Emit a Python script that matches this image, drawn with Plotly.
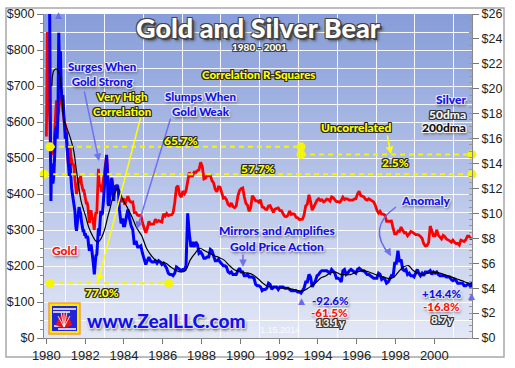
import plotly.graph_objects as go
import pandas as pd

# ---------------- DATA ----------------
dates_1980 = ['1980-01-02', '1980-01-10', '1980-01-21', '1980-01-28', '1980-02-06', '1980-02-15', '1980-02-26',
              '1980-03-10', '1980-03-18', '1980-03-27', '1980-04-08', '1980-04-22', '1980-05-07', '1980-05-20',
              '1980-06-05', '1980-06-20', '1980-07-08', '1980-07-22', '1980-08-07', '1980-08-22', '1980-09-08',
              '1980-09-22', '1980-10-08', '1980-10-22', '1980-11-07', '1980-11-21', '1980-12-08', '1980-12-22']
gold_1980 = [560, 640, 850, 660, 700, 660, 640, 590, 490, 510, 530, 510, 515, 520,
             570, 630, 660, 640, 620, 630, 680, 710, 670, 640, 630, 620, 590, 595]
silver_1980 = [36, 38, 48, 37, 35, 34, 30, 22, 16, 11, 14, 12.5, 12.5, 13,
               14.5, 16.5, 17, 16, 18, 24.5, 21, 23, 20, 19, 19.5, 18, 16.5, 16]

dates_8183 = [f"{y}-{m:02d}-{d:02d}" for y in (1981, 1982, 1983) for m in range(1, 13) for d in (8, 22)]
gold_8183 = [580, 530, 500, 475, 485, 535, 505, 490, 480, 485, 470, 440, 410, 400, 410, 425, 445, 440, 450, 430, 415, 410, 410, 400,
             390, 375, 375, 365, 340, 320, 345, 355, 335, 330, 315, 300, 335, 350, 345, 400, 470, 430, 420, 425, 405, 420, 440, 450,
             470, 495, 505, 480, 420, 410, 430, 435, 440, 445, 415, 410, 420, 425, 415, 420, 410, 410, 395, 390, 385, 378, 385, 388]
silver_8183 = [16.5, 15.5, 14.5, 14.0, 13.0, 14.0, 12.5, 12.0, 11.5, 11.0, 10.8, 10.2, 9.0, 8.6, 9.3, 9.8, 10.5, 10.2, 10.0, 9.4, 8.8, 8.6, 8.6, 8.3,
               8.3, 8.0, 8.2, 8.0, 7.4, 7.0, 7.2, 7.5, 7.0, 6.6, 5.8, 5.1, 6.3, 6.6, 6.7, 7.8, 8.8, 8.2, 9.8, 10.2, 9.9, 10.0, 10.8, 11.5,
               12.5, 13.6, 14.7, 13.5, 10.8, 10.6, 11.2, 11.9, 12.8, 12.6, 11.2, 11.0, 11.9, 12.2, 12.0, 12.3, 12.1, 11.6, 10.3, 9.8, 9.2, 9.3, 9.6, 9.0]

dates_8401 = (pd.date_range('1984-01-01', '2001-12-01', freq='MS') + pd.Timedelta(days=14)).strftime('%Y-%m-%d').tolist()
gold_8401 = [370, 386, 394, 381, 377, 378, 348, 348, 341, 340, 341, 320,
             303, 292, 304, 324, 316, 317, 317, 330, 323, 326, 325, 322,
             345, 339, 346, 340, 342, 342, 348, 376, 418, 423, 398, 391,
             408, 401, 409, 438, 460, 450, 450, 461, 460, 465, 467, 488,
             477, 442, 444, 452, 451, 451, 437, 431, 413, 406, 420, 419,
             404, 388, 390, 384, 371, 367, 375, 365, 362, 367, 394, 409,
             415, 417, 393, 374, 369, 352, 362, 395, 389, 381, 381, 377,
             384, 364, 363, 358, 357, 367, 368, 356, 349, 358, 360, 361,
             354, 354, 345, 338, 337, 341, 353, 343, 345, 344, 335, 334,
             329, 329, 330, 342, 367, 372, 398, 379, 355, 364, 373, 383,
             387, 382, 384, 378, 381, 386, 385, 380, 392, 390, 384, 379,
             379, 377, 382, 391, 385, 387, 386, 383, 383, 383, 386, 387,
             400, 408, 396, 393, 392, 385, 383, 387, 383, 381, 378, 369,
             355, 347, 352, 344, 344, 341, 324, 324, 323, 325, 306, 289,
             289, 297, 296, 308, 299, 292, 293, 284, 289, 296, 294, 291,
             287, 287, 286, 282, 277, 262, 256, 257, 265, 311, 293, 284,
             284, 300, 286, 280, 275, 285, 282, 275, 273, 270, 266, 272,
             266, 262, 263, 258, 272, 270, 268, 273, 283, 283, 276, 276]
silver_8401 = [9.0, 9.7, 10.3, 9.6, 9.0, 8.7, 7.5, 7.8, 7.3, 7.3, 7.4, 6.8,
               6.3, 5.9, 6.2, 6.5, 6.2, 6.1, 6.1, 6.2, 6.0, 6.2, 6.1, 5.9,
               6.0, 5.8, 5.6, 5.2, 5.1, 5.1, 5.0, 5.2, 5.7, 5.6, 5.5, 5.4,
               5.5, 5.5, 5.8, 10.0, 8.4, 7.3, 7.7, 7.3, 7.7, 7.5, 6.8, 6.9,
               6.7, 6.4, 6.4, 6.5, 6.5, 7.1, 7.0, 6.6, 6.2, 6.2, 6.3, 6.1,
               5.9, 5.8, 5.8, 5.7, 5.3, 5.2, 5.3, 5.1, 5.1, 5.1, 5.4, 5.6,
               5.3, 5.3, 5.0, 5.0, 5.1, 4.9, 4.9, 4.9, 4.8, 4.3, 4.2, 4.2,
               4.1, 3.8, 3.9, 3.9, 4.0, 4.4, 4.3, 3.9, 4.1, 4.1, 4.1, 3.9,
               4.1, 4.1, 4.1, 4.0, 4.0, 4.0, 3.9, 3.8, 3.8, 3.8, 3.8, 3.7,
               3.7, 3.6, 3.8, 4.0, 4.5, 4.5, 5.1, 4.9, 4.1, 4.3, 4.6, 5.0,
               5.1, 5.3, 5.4, 5.4, 5.4, 5.4, 5.3, 5.2, 5.5, 5.3, 5.2, 4.8,
               4.8, 4.7, 4.5, 5.4, 5.5, 5.1, 5.2, 5.4, 5.5, 5.4, 5.3, 5.2,
               5.5, 5.6, 5.5, 5.4, 5.4, 5.2, 5.1, 5.1, 5.0, 4.9, 4.8, 4.8,
               4.8, 5.2, 5.1, 4.7, 4.8, 4.7, 4.4, 4.5, 4.7, 5.0, 4.9, 6.0,
               6.0, 7.0, 6.1, 6.3, 5.5, 5.4, 5.5, 5.1, 5.2, 5.0, 5.0, 4.9,
               5.2, 5.5, 5.2, 5.0, 5.2, 5.0, 5.3, 5.3, 5.3, 5.4, 5.1, 5.3,
               5.2, 5.3, 5.1, 5.0, 5.0, 5.0, 5.0, 4.9, 4.9, 4.9, 4.7, 4.6,
               4.7, 4.6, 4.4, 4.4, 4.4, 4.4, 4.2, 4.2, 4.3, 4.3, 4.1, 4.5]

dma_dates = ['1980-04-15', '1980-05-15', '1980-07-01', '1980-09-01', '1980-10-15', '1980-12-01',
             '1981-01-15', '1981-03-01', '1981-04-15', '1981-06-01', '1981-07-15', '1981-09-01', '1981-10-15', '1981-12-01',
             '1982-01-15', '1982-03-01', '1982-04-15', '1982-06-01', '1982-07-15', '1982-09-01', '1982-10-15', '1982-12-01',
             '1983-01-15', '1983-03-01', '1983-04-15', '1983-06-01', '1983-07-15', '1983-09-01', '1983-10-15', '1983-12-01',
             '1984-03-01', '1984-06-01', '1984-09-01', '1984-12-01', '1985-03-01', '1985-06-01', '1985-09-01', '1985-12-01',
             '1986-03-01', '1986-06-01', '1986-09-01', '1986-12-01', '1987-03-01', '1987-06-01', '1987-09-01', '1987-12-01',
             '1988-03-01', '1988-06-01', '1988-09-01', '1988-12-01', '1989-03-01', '1989-06-01', '1989-09-01', '1989-12-01',
             '1990-03-01', '1990-06-01', '1990-09-01', '1990-12-01', '1991-03-01', '1991-06-01', '1991-09-01', '1991-12-01',
             '1992-03-01', '1992-06-01', '1992-09-01', '1992-12-01', '1993-03-01', '1993-06-01', '1993-09-01', '1993-12-01',
             '1994-03-01', '1994-06-01', '1994-09-01', '1994-12-01', '1995-03-01', '1995-06-01', '1995-09-01', '1995-12-01',
             '1996-03-01', '1996-06-01', '1996-09-01', '1996-12-01', '1997-03-01', '1997-06-01', '1997-09-01', '1997-12-01',
             '1998-03-01', '1998-06-01', '1998-09-01', '1998-12-01', '1999-03-01', '1999-06-01', '1999-09-01', '1999-12-01',
             '2000-03-01', '2000-06-01', '2000-09-01', '2000-12-01', '2001-03-01', '2001-06-01', '2001-09-01', '2001-12-01']
silver_200dma = [20.2, 21.4, 21.6, 21.2, 19.5, 17.4,
                 16.9, 16.4, 15.8, 15.0, 13.6, 12.2, 11.0, 10.3,
                 9.7, 9.0, 8.5, 8.1, 7.8, 7.7, 7.9, 8.3,
                 8.9, 9.7, 10.4, 11.2, 11.7, 12.0, 11.8, 11.2,
                 10.5, 9.7, 8.8, 8.2, 7.2, 6.6, 6.2, 6.1,
                 6.0, 5.7, 5.45, 5.3, 5.4, 6.25, 6.8, 7.2,
                 7.0, 6.8, 6.6, 6.45, 6.25, 5.85, 5.5, 5.35,
                 5.25, 5.2, 5.05, 4.75, 4.4, 4.15, 4.05, 4.05,
                 4.0, 4.0, 3.92, 3.83, 3.76, 3.92, 4.19, 4.48,
                 4.83, 5.0, 5.25, 5.29, 5.1, 5.08, 5.09, 5.25,
                 5.37, 5.38, 5.28, 5.12, 5.0, 4.88, 4.77, 4.88,
                 5.33, 5.69, 5.81, 5.41, 5.2, 5.12, 5.2, 5.27,
                 5.24, 5.15, 5.0, 4.88, 4.73, 4.6, 4.45, 4.35]

# correlation reference lines (R-squares), gold-scale level and date span
corr_labels = ['65.7%', '57.7%', '2.5%', '77.0%']
corr_levels = [531, 455, 510, 152]
corr_start = ['1980-03-10', '1979-11-20', '1993-02-17', '1980-03-10']
corr_end = ['1993-02-17', '2001-12-10', '2001-12-08', '1986-04-25']

gold_dates = dates_1980 + dates_8183 + dates_8401
gold = gold_1980 + gold_8183 + gold_8401
silver = silver_1980 + silver_8183 + silver_8401

# ---------------- FIGURE ----------------
W, H = 515, 368
L, R, T, B = 44, 472, 14, 338


def P(px, py):
    return (px - L) / (R - L), (B - py) / (B - T)


FONT = "Lato Black, Lato, Inter, DejaVu Sans, sans-serif"
TICKFONT = "Liberation Sans, Arial, sans-serif"


def outline(c, glow=None):
    s = f"-1px -1px 0 {c}, 1px -1px 0 {c}, -1px 1px 0 {c}, 1px 1px 0 {c}, 0 -1px 0 {c}, 0 1px 0 {c}, -1px 0 0 {c}, 1px 0 0 {c}"
    if glow:
        s += f", 1px 2px 3px {glow}"
    return s


SH_YEL = outline('#2a2a2a')
SH_BLUE = outline('#e4e4e4', '#444')
SH_RED = outline('#f4f4f4', '#444')

fig = go.Figure()

fig.add_trace(go.Scatter(x=gold_dates, y=gold, mode='lines', line=dict(color='#ff0000', width=2.8),
                         yaxis='y', name='Gold', hoverinfo='skip'))
fig.add_trace(go.Scatter(x=gold_dates, y=silver, mode='lines', line=dict(color='#0000ff', width=3),
                         yaxis='y2', name='Silver', hoverinfo='skip'))
fig.add_trace(go.Scatter(x=dma_dates, y=silver_200dma, mode='lines', line=dict(color='#000000', width=1.2, shape='spline'),
                         yaxis='y2', name='200dma', hoverinfo='skip'))
for lab, lev, s, e in zip(corr_labels, corr_levels, corr_start, corr_end):
    fig.add_trace(go.Scatter(x=[s, e], y=[lev, lev], mode='lines+markers', yaxis='y3', name=lab,
                             line=dict(color='#f5f50a', width=2, dash='5px,4px'),
                             marker=dict(color='#f5f50a', size=9), cliponaxis=False, hoverinfo='skip'))

# background gradient of plot area
shapes = []
top_c = (136, 158, 218)
bot_c = (226, 231, 246)
N = 60
for i in range(N):
    t = i / (N - 1)
    c = tuple(round(top_c[k] + (bot_c[k] - top_c[k]) * t) for k in range(3))
    shapes.append(dict(type='rect', xref='paper', yref='paper', x0=0, x1=1,
                       y0=max(0, 1 - (i + 1) / N - 0.003), y1=1 - i / N,
                       fillcolor=f'rgb{c}', line=dict(width=0), layer='below'))

# outer frame
x0, y0 = P(6, 357)
x1, y1 = P(504, 8)
shapes.append(dict(type='rect', xref='paper', yref='paper', x0=x0, y0=y0, x1=x1, y1=y1,
                   line=dict(color='#a8a8a8', width=1.5), fillcolor='rgba(0,0,0,0)', layer='below'))

# logo
lx0, ly0 = P(49, 334)
lx1, ly1 = P(80, 303)
shapes.append(dict(type='rect', xref='paper', yref='paper', x0=lx0, y0=ly0, x1=lx1, y1=ly1,
                   fillcolor='#ffe600', line=dict(color='#f0a040', width=1.5), layer='above'))
ix0, iy0 = P(52, 331)
ix1, iy1 = P(77, 306)
shapes.append(dict(type='rect', xref='paper', yref='paper', x0=ix0, y0=iy0, x1=ix1, y1=iy1,
                   fillcolor='#2525d8', line=dict(width=0), layer='above'))
for (a, b, c_, d) in [(53, 309, 76, 309), (53, 312, 70, 312), (58, 329, 76, 329), (54, 326, 62, 326)]:
    xa, ya = P(a, b)
    xb, yb = P(c_, d)
    shapes.append(dict(type='line', xref='paper', yref='paper', x0=xa, y0=ya, x1=xb, y1=yb,
                       line=dict(color='white', width=1.5), layer='above'))


def pth(points):
    s = ''
    for cmd, px, py in points:
        x, y = P(px, py)
        s += f"{cmd} {x:.4f} {y:.4f} "
    return s


shell = pth([('M', 56, 325), ('Q', 64, 303), ('', 72, 325)]) + pth([('L', 64, 328)]) + 'Z'
shapes.append(dict(type='path', xref='paper', yref='paper', path=shell, fillcolor='#e8121e',
                   line=dict(color='#e8121e', width=0.5), layer='above'))
for (a, b) in [(58, 316), (61, 312), (64, 311), (67, 312), (70, 316)]:
    xa, ya = P(64, 327)
    xb, yb = P(a, b)
    shapes.append(dict(type='line', xref='paper', yref='paper', x0=xa, y0=ya, x1=xb, y1=yb,
                       line=dict(color='white', width=0.8), layer='above'))

# anomaly curved arrow
curve = pth([('M', 396, 207), ('Q', 366, 228), ('', 390, 255)])
shapes.append(dict(type='path', xref='paper', yref='paper', path=curve,
                   line=dict(color='#6a6af0', width=1.5), layer='above'))

annotations = []


def label(text, px, py, color, size, shadow=None, xanchor='center', weight=900, family=FONT):
    x, y = P(px, py)
    f = dict(family=family, size=size, color=color, weight=weight)
    if shadow:
        f['shadow'] = shadow
    annotations.append(dict(text=text, x=x, y=y, xref='paper', yref='paper', xanchor=xanchor,
                            yanchor='middle', showarrow=False, font=f, borderpad=0))


def arrow(tail, head, color, width=1.5, size=1.0):
    hx, hy = P(*head)
    annotations.append(dict(text='', x=hx, y=hy, xref='paper', yref='paper',
                            ax=tail[0] - head[0], ay=tail[1] - head[1], showarrow=True,
                            arrowhead=2, arrowsize=size, arrowwidth=width, arrowcolor=color))


ARROW_BLUE = '#7070f0'
arrow((84, 90), (99, 161), ARROW_BLUE)
arrow((141, 116), (98, 282), '#ffff00')
arrow((171, 117), (137, 229), ARROW_BLUE)
arrow((387, 134), (391, 154), '#ffff00')
arrow((243, 253), (243, 267), ARROW_BLUE)
arrow((387, 249), (391, 256), ARROW_BLUE)

label('Gold and Silver Bear', 258, 28, 'white', 27,
      "-1px -1px 0 #444, 1px -1px 0 #444, -1px 1px 0 #444, 1px 1px 0 #444, 2px 2px 0 #444, 3px 3px 3px #555")
label('1980 - 2001', 259, 46.5, 'white', 10, outline('#444'))
label('Correlation R-Squares', 258, 75, '#ffff00', 11.5, SH_YEL)
label('Surges When<br>Gold Strong', 102, 74, '#1010f0', 11.5, SH_BLUE)
label('Very High<br>Correlation', 122, 104, '#ffff00', 11.5, SH_YEL)
label('Slumps When<br>Gold Weak', 200, 104, '#1010f0', 11.5, SH_BLUE)
label('Silver', 467, 100, '#1010f0', 12, SH_BLUE, xanchor='right')
label('50dma', 467, 114, '#f4f4f4', 12, outline('#333'), xanchor='right')
label('200dma', 467, 127, '#111111', 12, SH_RED, xanchor='right')
label('Uncorrelated', 356, 127, '#ffff00', 12, SH_YEL)
label('65.7%', 181, 140, '#ffff00', 12, SH_YEL)
label('57.7%', 258, 168, '#ffff00', 12, SH_YEL)
label('2.5%', 395, 162, '#ffff00', 12, SH_YEL)
label('77.0%', 102, 292, '#ffff00', 12, SH_YEL)
label('Gold', 65, 250, '#ff1010', 12, SH_RED)
label('Mirrors and Amplifies<br>Gold Price Action', 277, 238.5, '#1010f0', 12, SH_BLUE)
label('Anomaly', 425, 200, '#1010f0', 12, SH_BLUE)
label('-92.6%', 330, 300, '#1010f0', 11.5, SH_BLUE)
label('-61.5%', 329, 312, '#ff1010', 11.5, SH_RED)
label('13.1y', 331, 322.5, '#f2f2f2', 11.5, outline('#333'))
label('+14.4%', 441, 293, '#1010f0', 11.5, SH_BLUE)
label('-16.8%', 441, 306, '#ff1010', 11.5, SH_RED)
label('8.7y', 442, 319, '#f2f2f2', 11.5, outline('#333'))
label('1.15.2014', 280, 330, 'rgba(255,255,255,0.85)', 9, None, weight=400, family=TICKFONT)
label('www.ZealLLC.com', 166, 320, '#1010f0', 19, SH_BLUE)
label('▲', 58, 15, '#6a6af0', 9, None, weight=400, family='DejaVu Sans')
label('▲', 301, 301, '#6a6af0', 9, None, weight=400, family='DejaVu Sans')
label('▲', 471, 296, '#6a6af0', 9, None, weight=400, family='DejaVu Sans')

axis_font = dict(family=TICKFONT, size=12.5, color='#222222')

fig.update_layout(
    width=W, height=H,
    margin=dict(l=L, r=W - R, t=T, b=H - B, pad=0, autoexpand=False),
    paper_bgcolor='white', plot_bgcolor='rgba(0,0,0,0)',
    showlegend=False,
    shapes=shapes, annotations=annotations,
    xaxis=dict(type='date', range=['1979-11-18', '2001-12-10'], tick0='1980-01-01', dtick='M24',
               tickformat='%Y', ticks='outside', ticklen=5, tickcolor='#777', showline=True,
               linecolor='#888', linewidth=1, showgrid=False, zeroline=False, automargin=False,
               tickfont=dict(family=TICKFONT, size=13, color='#222222'),
               minor=dict(dtick='M12', tick0='1980-01-01', showgrid=True, gridcolor='rgba(255,255,255,0.9)',
                          gridwidth=1, ticks='')),
    yaxis=dict(range=[0, 900], dtick=100, tickprefix='$', ticks='outside', ticklen=6, tickcolor='#777',
               showline=True, linecolor='#888', linewidth=1, showgrid=False, zeroline=False, automargin=False,
               tickfont=axis_font,
               minor=dict(dtick=25, ticks='outside', ticklen=3, tickcolor='#888', showgrid=False)),
    yaxis2=dict(range=[0, 26], dtick=2, tickprefix='$', side='right', overlaying='y', ticks='outside',
                ticklen=6, tickcolor='#777', showline=True, linecolor='#888', linewidth=1, automargin=False,
                showgrid=False, zeroline=False, tickfont=axis_font,
                minor=dict(dtick=0.5, ticks='inside', ticklen=3, tickcolor='#999', showgrid=False)),
    yaxis3=dict(range=[0, 900], dtick=50, overlaying='y', showgrid=True, gridcolor='rgba(255,255,255,0.9)',
                gridwidth=1, showticklabels=False, ticks='', showline=False, zeroline=False, automargin=False),
)

fig.write_html("out.html", config={'displayModeBar': False},
               post_script="document.body.style.margin='0px';")
